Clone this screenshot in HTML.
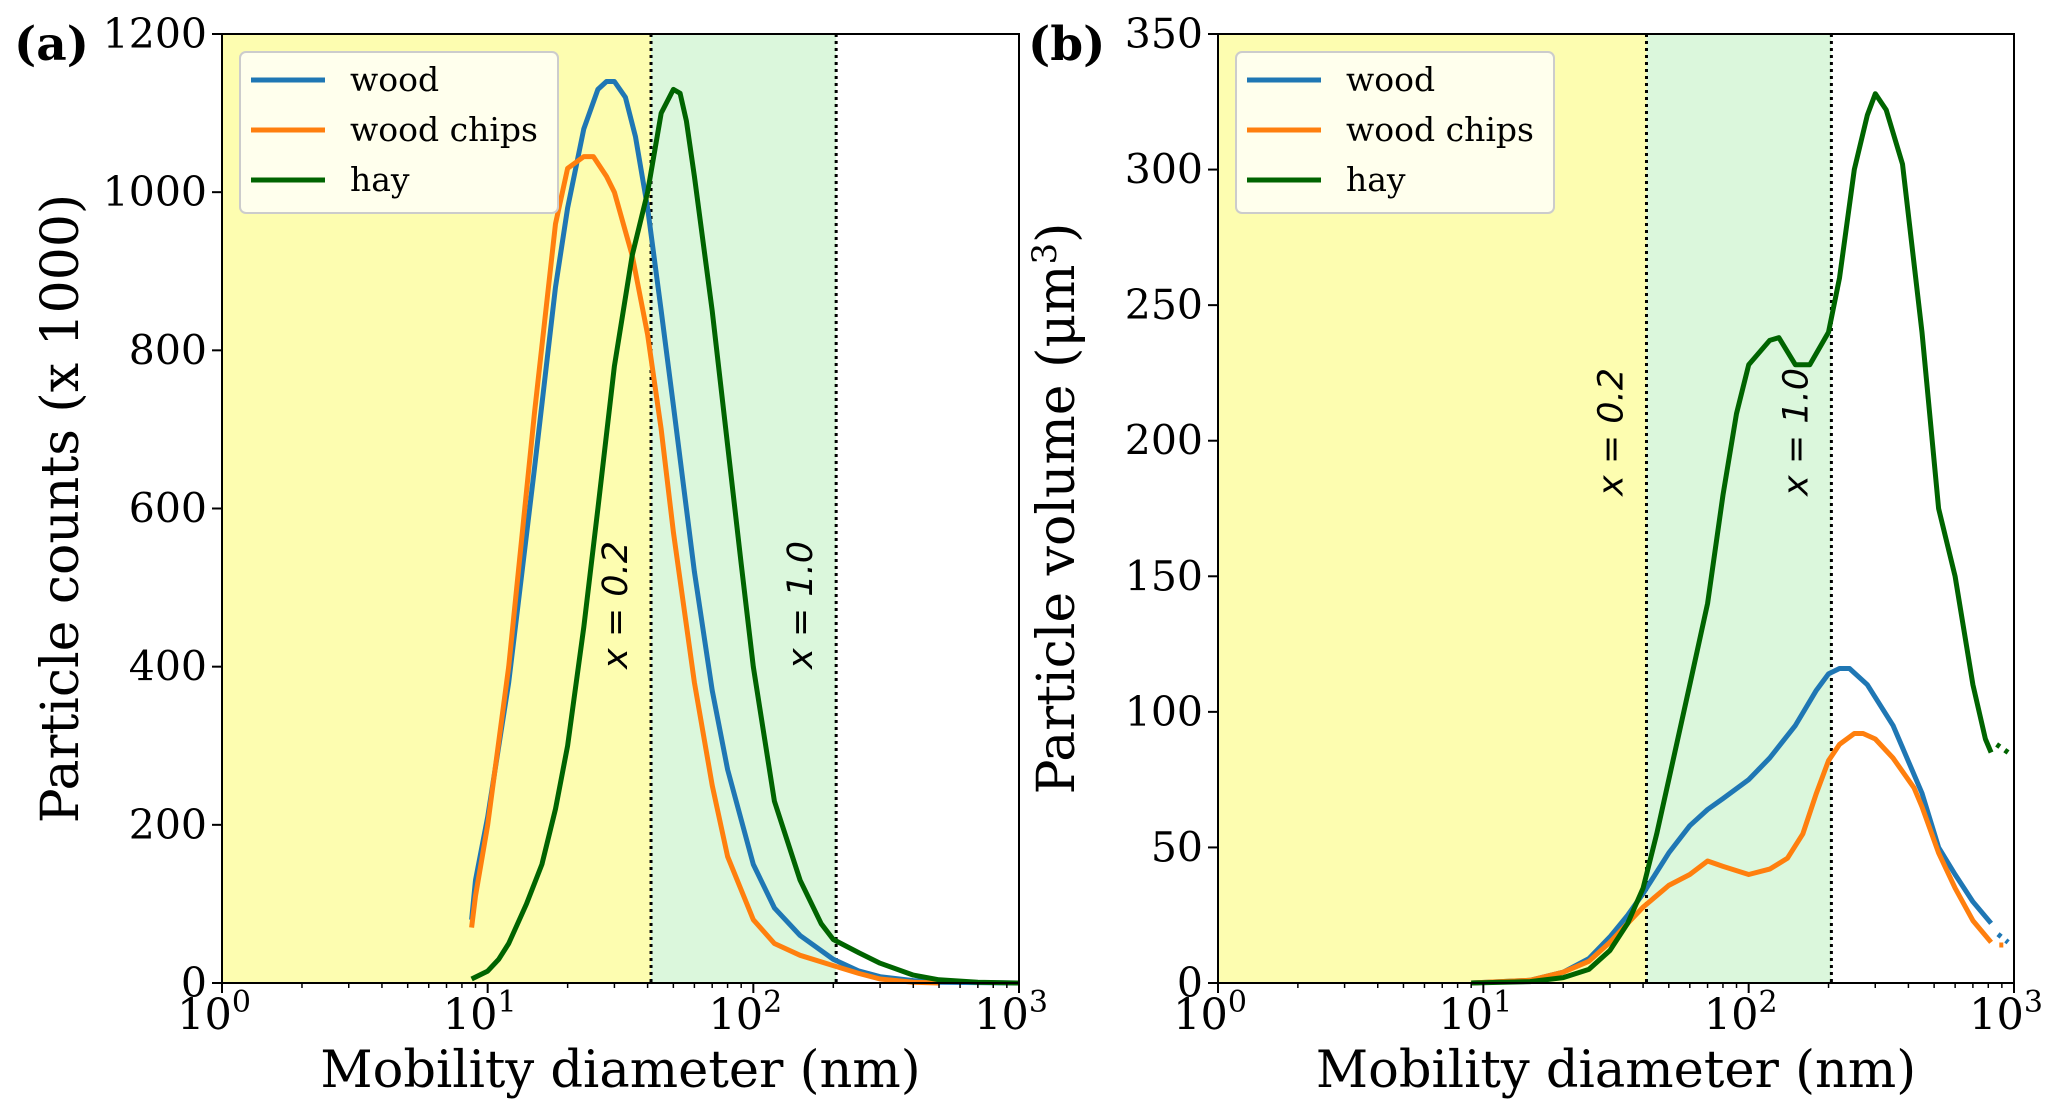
<!DOCTYPE html>
<html><head><meta charset="utf-8">
<style>
html,body{margin:0;padding:0;background:#fff;}
svg{display:block;}
text{font-family:"DejaVu Serif","Liberation Serif",serif;fill:#000;}
.ann{font-family:"DejaVu Sans","Liberation Sans",sans-serif;font-style:italic;}
</style></head>
<body>
<svg id="chart" width="2067" height="1117" viewBox="0 0 2067 1117" xmlns="http://www.w3.org/2000/svg"></svg>
<script>
// Panel (a): particle counts (x1000)
const aWoodX = [8.7,9,10,12,15,18,20,23,26,28,30,33,36,40,45,50,60,70,80,100,120,150,200,250,300,400,500,1000];
const aWoodY = [80,130,210,380,650,880,980,1080,1130,1140,1140,1120,1070,980,850,730,520,370,270,150,95,60,30,15,8,3,1,0];
const aChipsX = [8.7,9,10,12,15,18,20,23,25,28,30,35,40,45,50,60,70,80,100,120,150,200,250,300,400,500];
const aChipsY = [70,110,200,400,720,960,1030,1045,1045,1020,1000,920,820,700,570,380,250,160,80,50,35,22,12,5,1,0];
const aHayX = [8.7,10,11,12,14,16,18,20,23,26,30,35,40,45,50,53,56,60,70,80,90,100,120,150,180,200,250,300,400,500,700,1000];
const aHayY = [5,15,30,50,100,150,220,300,450,600,780,920,1000,1100,1130,1125,1090,1020,850,680,530,400,230,130,75,55,38,25,10,4,1,0];
// Panel (b): particle volume (um^3)
const bWoodX = [9,15,20,25,30,35,40,50,60,70,80,100,120,150,180,200,220,240,280,350,450,520,600,700,820];
const bWoodY = [0,1,4,9,17,25,33,48,58,64,68,75,83,95,108,114,116,116,110,95,70,50,40,30,22];
const bChipsX = [9,15,20,25,30,35,40,50,60,70,80,100,120,140,160,180,200,220,250,270,300,350,420,450,520,600,700,820];
const bChipsY = [0,1,4,8,15,22,28,36,40,45,43,40,42,46,55,70,82,88,92,92,90,83,72,65,48,35,23,15];
const bHayX = [9,15,20,25,30,35,40,45,50,60,70,80,90,100,120,130,150,170,200,220,250,280,300,330,380,450,520,600,700,780,820];
const bHayY = [0,0.5,2,5,12,22,35,55,75,110,140,180,210,228,237,238,228,228,240,260,300,320,328,322,302,240,175,150,110,90,85];
const bWoodTailX = [870,950]; const bWoodTailY = [18,15];
const bChipsTailX = [880,950]; const bChipsTailY = [14,14];
const bHayTailX = [860,950]; const bHayTailY = [88,85];
const aYTicks = [0,200,400,600,800,1000,1200];
const bYTicks = [0,50,100,150,200,250,300,350];
const xDecades = [0,1,2,3];
const thresholds = [41.2,205];
const thresholdLabels = ['x = 0.2','x = 1.0'];
const seriesNames = ['wood','wood chips','hay'];
const colors = ['#1f77b4','#ff7f0e','#006400'];

const NS='http://www.w3.org/2000/svg';
const svg=document.getElementById('chart');
function mk(tag,attrs,parent){const e=document.createElementNS(NS,tag);for(const k in attrs)e.setAttribute(k,attrs[k]);(parent||svg).appendChild(e);return e;}

function panel(cfg){
  const g=mk('g',{});
  
  
  const L=cfg.left,R=cfg.right,T=34,B=983;
  const xs=v=>L+(Math.log10(v))/3*(R-L);
  const ys=v=>B-v/cfg.ymax*(B-T);
  const r1=mk('rect',{x:L,y:T,width:xs(thresholds[0])-L,height:B-T,fill:'#fdfdb0'},g);
  
  
  const r2=mk('rect',{x:xs(thresholds[0]),y:T,width:xs(thresholds[1])-xs(thresholds[0]),height:B-T,fill:'#dbf7dc'},g);
  
  
  thresholds.forEach((t,i)=>{
    const ln=mk('line',{x1:xs(t),x2:xs(t),y1:T,y2:B,stroke:'#000','stroke-width':3,'stroke-dasharray':'3,4'},g);
    
    
    const tx=xs(t)-24, ty=cfg.annY;
    const lab=mk('text',{x:tx,y:ty,'font-size':35,'text-anchor':'middle',class:'ann',transform:`rotate(-90 ${tx} ${ty})`},g);
    lab.textContent=thresholdLabels[i];
    
    
  });
  cfg.series.forEach((s,i)=>{
    const d=s.x.map((v,j)=>(j?'L':'M')+xs(v).toFixed(1)+','+ys(s.y[j]).toFixed(1)).join('');
    const p=mk('path',{d:d,fill:'none',stroke:colors[i],'stroke-width':5,'stroke-linejoin':'round'},g);
    
    
    if(s.tx){
      const d2=s.tx.map((v,j)=>(j?'L':'M')+xs(v).toFixed(1)+','+ys(s.ty[j]).toFixed(1)).join('');
      const p2=mk('path',{d:d2,fill:'none',stroke:colors[i],'stroke-width':5,'stroke-dasharray':'4,6'},g);
      
      
    }
  });
  const fr=mk('rect',{x:L,y:T,width:R-L,height:B-T,fill:'none',stroke:'#000','stroke-width':2},g);
  
  
  xDecades.forEach(dd=>{
    const x=xs(Math.pow(10,dd));
    mk('line',{x1:x,x2:x,y1:B,y2:B+10,stroke:'#000','stroke-width':2},g);
    const t=mk('text',{x:x-8,y:B+46,'font-size':43,'text-anchor':'middle'},g);
    t.innerHTML='10<tspan dy="-17" font-size="30">'+dd+'</tspan>';
    
    
    if(dd<3){for(let m=2;m<10;m++){const xm=xs(m*Math.pow(10,dd));mk('line',{x1:xm,x2:xm,y1:B,y2:B+5,stroke:'#000','stroke-width':1.5},g);}}
  });
  cfg.yticks.forEach(v=>{
    const y=ys(v);
    mk('line',{x1:L-10,x2:L,y1:y,y2:y,stroke:'#000','stroke-width':2},g);
    const t=mk('text',{x:L-15,y:y+14,'font-size':41,'text-anchor':'end'},g);
    t.textContent=v;
    
    
  });
  const xt=mk('text',{x:(L+R)/2,y:1087,'font-size':51,'text-anchor':'middle'},g);
  xt.textContent='Mobility diameter (nm)';
  
  
  const yx=L-144, yy=(T+B)/2;
  const yt=mk('text',{x:yx,y:yy,'font-size':52,'text-anchor':'middle',transform:`rotate(-90 ${yx} ${yy})`},g);
  yt.innerHTML=cfg.ytitle;
  
  
  const pl=mk('text',{x:cfg.labelX,y:60,'font-size':47,'font-weight':'bold'},g);
  pl.textContent=cfg.label;
  
  
  const lg=mk('g',{},g);
  
  
  mk('rect',{x:L+18,y:52,width:318,height:161,rx:6,fill:'#fffff0','fill-opacity':0.95,stroke:'#ccc','stroke-width':2},lg);
  seriesNames.forEach((n,i)=>{
    const y=80+i*50;
    const e=mk('g',{},lg);
    
    
    mk('line',{x1:L+29,x2:L+103,y1:y,y2:y,stroke:colors[i],'stroke-width':5},e);
    const t=mk('text',{x:L+128,y:y+11,'font-size':33},e);
    t.textContent=n;
  });
}

panel({name:'panel-a-counts',left:222,right:1019,ymax:1200,yticks:aYTicks,annY:605,label:'(a)',labelX:14,
  ytitle:'Particle counts (x 1000)',
  series:[{x:aWoodX,y:aWoodY},{x:aChipsX,y:aChipsY},{x:aHayX,y:aHayY}]});
panel({name:'panel-b-volume',left:1218,right:2014,ymax:350,yticks:bYTicks,annY:432,label:'(b)',labelX:1028,
  ytitle:'Particle volume (μm<tspan dy="-18" font-size="34">3</tspan><tspan dy="18">)</tspan>',
  series:[{x:bWoodX,y:bWoodY,tx:bWoodTailX,ty:bWoodTailY},{x:bChipsX,y:bChipsY,tx:bChipsTailX,ty:bChipsTailY},{x:bHayX,y:bHayY,tx:bHayTailX,ty:bHayTailY}]});
</script>
</body></html>
